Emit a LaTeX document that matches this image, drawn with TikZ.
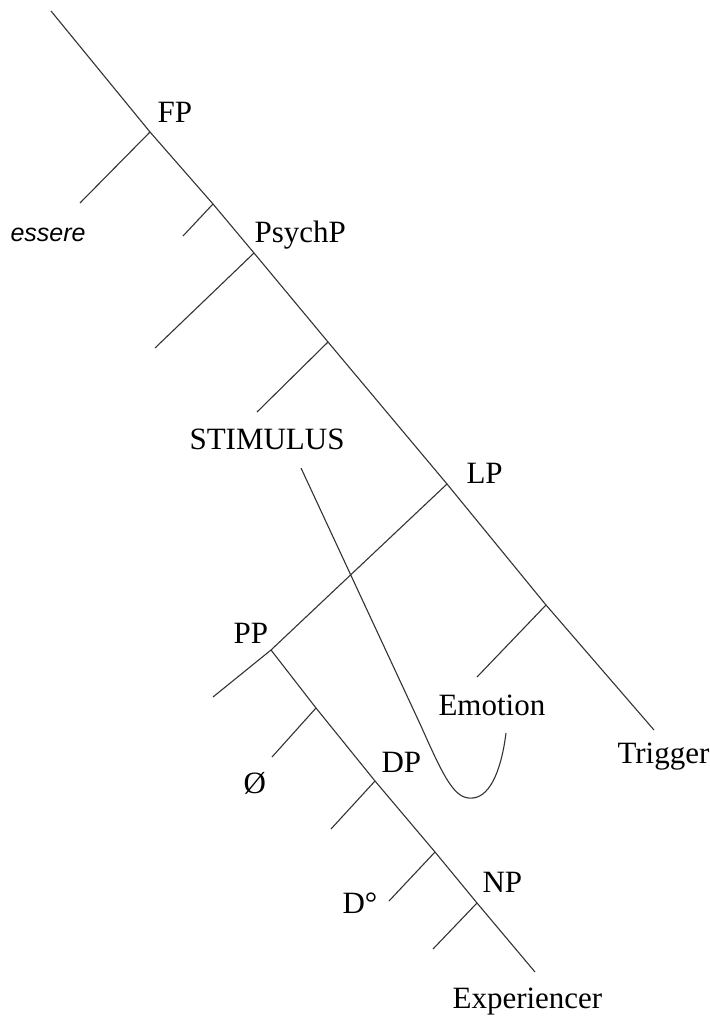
\documentclass[tikz,border=0pt]{standalone}
\usepackage{fontspec}
\setmainfont{Liberation Serif}
\newfontfamily\essfont{Liberation Sans}
\usepackage{tikz}
\usetikzlibrary{positioning}

\begin{document}
\begin{tikzpicture}[x=0.5pt, y=-0.5pt, line width=0.55pt, draw=black!80,
    lbl/.style={anchor=base west, inner sep=0pt, font=\fontsize{15.5}{18}\selectfont}]
        \useasboundingbox (0,0) rectangle (710,1021);
        % main spine
        \coordinate (top) at (51,11);
        \coordinate (fp) at (150,132);
        \coordinate (fpE) at (80,203);
        \coordinate (fbar) at (213,204);
        \coordinate (fbarE) at (183,236);
        \coordinate (psych) at (254,253);
        \coordinate (psychE) at (155,348);
        \coordinate (psybar) at (328,342);
        \coordinate (psybarE) at (257,412);
        \coordinate (lp) at (447,484);
        \coordinate (lbar) at (546,605);
        \coordinate (lbarE) at (477,677);
        \coordinate (trigE) at (654,730);
        % PP spine
        \coordinate (pp) at (271,650);
        \coordinate (ppE) at (213,697);
        \coordinate (pbar) at (316,708);
        \coordinate (pbarE) at (272,757);
        \coordinate (dp) at (375,781);
        \coordinate (dpE) at (331,829);
        \coordinate (dbar) at (435,852);
        \coordinate (dbarE) at (389,901);
        \coordinate (np) at (477,903);
        \coordinate (npE) at (433,949);
        \coordinate (expE) at (535,972);
        % curve ends
        \coordinate (stimS) at (301,468);
        \coordinate (bend) at (421,726);
        \coordinate (emoE) at (506,733);

        \node[lbl] (fpL) at (157,123) {FP};
        \node[lbl, font=\essfont\itshape\fontsize{12.5}{15}\selectfont] (essere) at (10,242) {essere};
        \node[lbl] (psychL) at (254,243) {PsychP};
        \node[lbl] (stimulus) at (189,449) {STIMULUS};
        \node[lbl] (lpL) at (466,483) {LP};
        \node[lbl] (ppL) at (233,643) {PP};
        \node[lbl] (emotion) at (438,715) {Emotion};
        \node[lbl] (trigger) at (617,763) {Trigger};
        \node[lbl] (empty) at (243,793) {Ø};
        \node[lbl] (dpL) at (381,772) {DP};
        \node[lbl] (dzero) at (342,913) {D°};
        \node[lbl] (npL) at (482,892) {NP};
        \node[lbl] (experiencer) at (452,1008) {Experiencer};

        \draw (top) -- (fp) -- (fbar) -- (psych) -- (psybar) -- (lp) -- (lbar) -- (trigE);
        \draw (fp) -- (fpE);
        \draw (fbar) -- (fbarE);
        \draw (psych) -- (psychE);
        \draw (psybar) -- (psybarE);
        \draw (lbar) -- (lbarE);
        \draw (lp) -- (pp) -- (ppE);
        \draw (pp) -- (pbar) -- (dp) -- (dbar) -- (np) -- (expE);
        \draw (pbar) -- (pbarE);
        \draw (dp) -- (dpE);
        \draw (dbar) -- (dbarE);
        \draw (np) -- (npE);
        \draw (stimS) -- (bend) .. controls (445,780) and (455,800) .. (473,798)
              .. controls (492,796) and (502,765) .. (emoE);
      \end{tikzpicture}
\end{document}
